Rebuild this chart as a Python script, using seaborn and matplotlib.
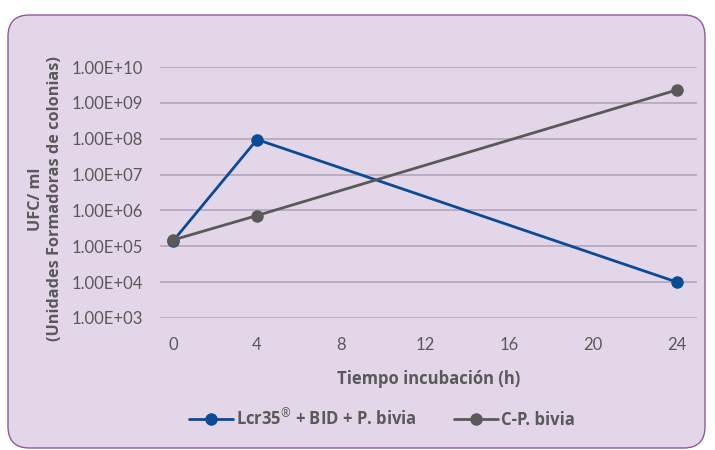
import matplotlib
matplotlib.use("Agg")
import matplotlib.pyplot as plt
import seaborn as sns
import pandas as pd
import numpy as np
from matplotlib.patches import FancyBboxPatch
from matplotlib.ticker import FuncFormatter, FixedLocator

# Data
hours = [0, 4, 24]
lcr_values = [1.4e5, 9.5e7, 1.0e4]
cp_values = [1.5e5, 7.2e5, 2.3e9]
series_names = ["Lcr35$^{\u00ae}$ + BID + P. bivia", "C-P. bivia"]
x_ticks = [0, 4, 8, 12, 16, 20, 24]
y_ticks = [1e3, 1e4, 1e5, 1e6, 1e7, 1e8, 1e9, 1e10]

df = pd.DataFrame({
    "hora": hours * 2,
    "ufc": lcr_values + cp_values,
    "serie": [series_names[0]] * 3 + [series_names[1]] * 3,
})

sns.set_theme(style="white")
plt.rcParams['font.family'] = ['Lato', 'DejaVu Sans']
plt.rcParams['mathtext.fontset'] = 'custom'
plt.rcParams['mathtext.rm'] = 'Open Sans'
bold_font = ['Open Sans', 'DejaVu Sans']

bg = "#E3D6E8"
txt = "#595959"
fig = plt.figure(figsize=(7.15, 4.5), dpi=100)
fig.patch.set_facecolor("white")
box = FancyBboxPatch((8 / 715, 2 / 450), 697 / 715, 433 / 450,
                     boxstyle="round,pad=0,rounding_size=0.03",
                     transform=fig.transFigure, facecolor=bg,
                     edgecolor="#8E5A9E", linewidth=1.0, zorder=-10,
                     mutation_aspect=715 / 450)
fig.patches.append(box)

ax = fig.add_axes([160 / 715, 1 - 318 / 450, 537 / 715, 251 / 450])
ax.set_facecolor("none")
ax.set_zorder(5)

palette = {series_names[0]: "#0B4A95", series_names[1]: "#595959"}
sns.lineplot(data=df, x="hora", y="ufc", hue="serie", palette=palette,
             marker="o", markersize=9, markeredgewidth=0, linewidth=2,
             ax=ax, legend=True)

ax.set_yscale("log")
ax.set_ylim(1e3, 1e10)
ax.set_xlim(-0.62, 24.95)
ax.yaxis.set_major_locator(FixedLocator(y_ticks))
ax.yaxis.set_minor_locator(FixedLocator([]))
ax.yaxis.set_major_formatter(FuncFormatter(lambda v, p: "%.2fE+%02d" % (v / 10 ** round(np.log10(v)), round(np.log10(v)))))
ax.set_xticks(x_ticks)
ax.grid(axis="y", color="#B3A5BA", linewidth=1.2)
ax.grid(axis="x", visible=False)
for s in ax.spines.values():
    s.set_visible(False)
ax.tick_params(axis="both", length=0, labelsize=12, labelcolor=txt)
ax.tick_params(axis="y", pad=12)
ax.tick_params(axis="x", pad=14)

ax.set_xlabel("Tiempo incubación (h)", fontsize=12, fontweight="bold",
              color=txt, labelpad=12, family=bold_font)
ax.set_ylabel("UFC/ ml\n(Unidades Formadoras de colonias)", fontsize=11.7,
              fontweight="bold", color=txt, linespacing=1.25,
              family=bold_font)
ax.yaxis.set_label_coords((63 - 160) / 537, (318 - 199) / 251)

handles, labels = ax.get_legend_handles_labels()
ax.legend(handles, labels, loc="center", bbox_to_anchor=(382 / 715, 1 - 418 / 450),
          bbox_transform=fig.transFigure, ncol=2, frameon=False,
          prop={"size": 12, "weight": "bold", "family": bold_font},
          labelcolor=txt, handlelength=2.65, handletextpad=0.2,
          columnspacing=2.2)

fig.savefig("out.png", dpi=100, facecolor="white")
